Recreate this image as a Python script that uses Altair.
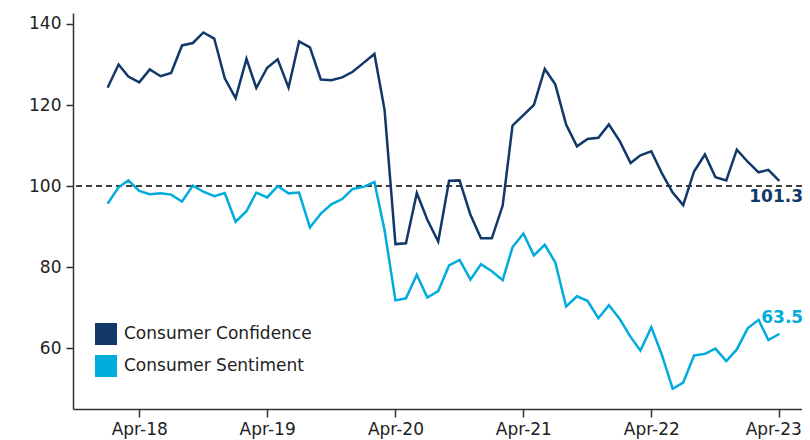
import altair as alt
import pandas as pd

months = pd.date_range("2018-01-01", "2023-04-01", freq="MS").strftime("%Y-%m-%d").tolist()

confidence = [124.3, 130.0, 127.0, 125.6, 128.8, 127.1, 127.9, 134.7, 135.3, 137.9, 136.4, 126.6,
              121.7, 131.4, 124.2, 129.2, 131.3, 124.3, 135.7, 134.2, 126.3, 126.1, 126.8, 128.2,
              130.4, 132.6, 118.8, 85.7, 85.9, 98.3, 91.7, 86.3, 101.3, 101.4, 92.9, 87.1,
              87.1, 95.2, 114.9, 117.5, 120.0, 128.9, 125.1, 115.2, 109.8, 111.6, 111.9, 115.2,
              111.1, 105.7, 107.6, 108.6, 103.2, 98.4, 95.3, 103.6, 107.8, 102.2, 101.4, 109.0,
              106.0, 103.4, 104.0, 101.3]

sentiment = [95.7, 99.7, 101.4, 98.8, 98.0, 98.2, 97.9, 96.2, 100.1, 98.6, 97.5, 98.3,
             91.2, 93.8, 98.4, 97.2, 100.0, 98.2, 98.4, 89.8, 93.2, 95.5, 96.8, 99.3,
             99.8, 101.0, 89.1, 71.8, 72.3, 78.1, 72.5, 74.1, 80.4, 81.8, 76.9, 80.7,
             79.0, 76.8, 84.9, 88.3, 82.9, 85.5, 81.2, 70.3, 72.8, 71.7, 67.4, 70.6,
             67.2, 62.8, 59.4, 65.2, 58.4, 50.0, 51.5, 58.2, 58.6, 59.9, 56.8, 59.7,
             64.9, 67.0, 62.0, 63.5]

series_names = ["Consumer Confidence", "Consumer Sentiment"]
series_colors = ["#12386a", "#00acdc"]
y_ticks = [60, 80, 100, 120, 140]
x_tick_years = [2018, 2019, 2020, 2021, 2022, 2023]
reference_level = 100

df = pd.DataFrame({
    "date": months * 2,
    "value": confidence + sentiment,
    "series": [series_names[0]] * len(months) + [series_names[1]] * len(months),
})
df["line_key"] = df["series"]

FONT = "DejaVu Sans"

x_scale = alt.Scale(type="utc",
                    domain=[alt.DateTime(year=2017, month=9, date=24, utc=True),
                            alt.DateTime(year=2023, month=6, date=5, utc=True)])
y_scale = alt.Scale(domain=[45, 142.7], nice=False, zero=False)

x_enc = alt.X("date:T", scale=x_scale, title=None,
              axis=alt.Axis(values=[alt.DateTime(year=y, month=4, date=1, utc=True) for y in x_tick_years],
                            labelExpr="utcFormat(datum.value, '%b-%y')", tickSize=8, labelPadding=4,
                            labelOffset={"condition": {"test": "utcyear(datum.value) == 2023", "value": -6},
                                         "value": 0}))
y_enc = alt.Y("value:Q", scale=y_scale, title=None,
              axis=alt.Axis(values=y_ticks, tickSize=7, labelPadding=5))

# line layer's own legend is parked outside the drawing area
lines = alt.Chart(df).mark_line(strokeWidth=2.5).encode(
    x=x_enc,
    y=y_enc,
    color=alt.Color("line_key:N", scale=alt.Scale(domain=series_names, range=series_colors),
                    legend=alt.Legend(orient="none", legendX=-3000, legendY=-3000, title=None)),
)

legend_layer = alt.Chart(df).mark_square(size=1).encode(
    x=alt.X("date:T", scale=x_scale),
    y=alt.Y("value:Q", scale=y_scale),
    color=alt.Color("series:N", scale=alt.Scale(domain=series_names, range=series_colors),
                    legend=alt.Legend(orient="none", legendX=22, legendY=310, title=None,
                                      symbolType="square", symbolSize=484, symbolOpacity=1,
                                      symbolStrokeWidth=0, labelLimit=300,
                                      labelFontSize=17, labelFont=FONT, labelColor="#222",
                                      rowPadding=10, labelOffset=7)),
)

rule = alt.Chart(pd.DataFrame({"y": [reference_level]})).mark_rule(
    color="black", strokeWidth=1.5, strokeDash=[6, 4]
).encode(y=alt.Y("y:Q", scale=y_scale))

conf_label = alt.Chart(pd.DataFrame({"date": [months[-1]], "value": [confidence[-1]]})).mark_text(
    align="left", baseline="middle", dx=-30, dy=16, font=FONT, fontSize=17, fontWeight="bold",
    color=series_colors[0]
).encode(x=alt.X("date:T", scale=x_scale), y=alt.Y("value:Q", scale=y_scale),
         text=alt.Text("value:Q", format=".1f"))

sent_label = alt.Chart(pd.DataFrame({"date": [months[-1]], "value": [sentiment[-1]]})).mark_text(
    align="left", baseline="middle", dx=-18, dy=-16, font=FONT, fontSize=17, fontWeight="bold",
    color=series_colors[1]
).encode(x=alt.X("date:T", scale=x_scale), y=alt.Y("value:Q", scale=y_scale),
         text=alt.Text("value:Q", format=".1f"))

chart = alt.layer(rule, lines, legend_layer, conf_label, sent_label).resolve_scale(
    color="independent"
).properties(
    width=729, height=396,
    padding={"left": 65, "top": 5, "right": 0, "bottom": 31},
    autosize=alt.AutoSizeParams(type="none"),
).configure_view(stroke="transparent").configure_axis(
    grid=False, domainColor="#333", domainWidth=1.5, tickColor="#333", tickWidth=1.5,
    labelFont=FONT, labelFontSize=17, labelColor="#222",
)

chart.save("out.html", embed_options={"renderer": "svg", "actions": False})
